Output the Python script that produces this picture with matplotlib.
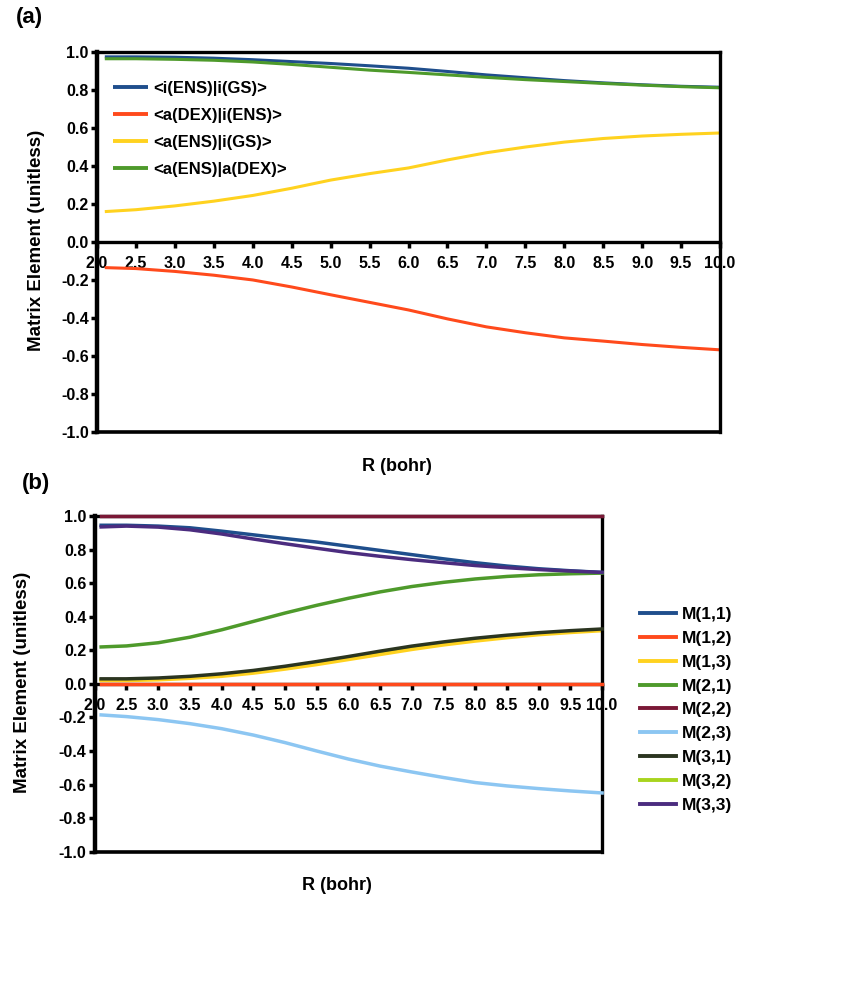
import matplotlib
matplotlib.use("Agg")
import matplotlib.pyplot as plt

plt.rcParams['font.family'] = ['Liberation Sans', 'DejaVu Sans']
plt.rcParams['font.weight'] = 'bold'

# ---------------- data ----------------
R = [2.1, 2.5, 3.0, 3.5, 4.0, 4.5, 5.0, 5.5, 6.0, 6.5, 7.0, 7.5, 8.0, 8.5, 9.0, 9.5, 10.0]

# panel (a)
a_labels = ["<i(ENS)|i(GS)>", "<a(DEX)|i(ENS)>", "<a(ENS)|i(GS)>", "<a(ENS)|a(DEX)>"]
a_iENS_iGS = [0.975, 0.975, 0.973, 0.968, 0.96, 0.95, 0.94, 0.928, 0.915, 0.898, 0.88, 0.865, 0.85, 0.838, 0.828, 0.82, 0.815]
a_aDEX_iENS = [-0.135, -0.14, -0.155, -0.175, -0.2, -0.237, -0.278, -0.318, -0.358, -0.405, -0.447, -0.478, -0.505, -0.522, -0.54, -0.555, -0.568]
a_aENS_iGS = [0.16, 0.17, 0.19, 0.215, 0.245, 0.283, 0.326, 0.36, 0.39, 0.432, 0.47, 0.5, 0.526, 0.545, 0.558, 0.567, 0.574]
a_aENS_aDEX = [0.965, 0.965, 0.962, 0.957, 0.948, 0.935, 0.92, 0.905, 0.893, 0.88, 0.867, 0.855, 0.845, 0.835, 0.826, 0.818, 0.812]
a_colors = ["#1F4E8C", "#FF4A1C", "#FFD21F", "#4E9A2B"]

# panel (b)
b_labels = ["M(1,1)", "M(1,2)", "M(1,3)", "M(2,1)", "M(2,2)", "M(2,3)", "M(3,1)", "M(3,2)", "M(3,3)"]
M11 = [0.945, 0.945, 0.94, 0.93, 0.91, 0.888, 0.866, 0.845, 0.82, 0.795, 0.77, 0.745, 0.722, 0.702, 0.686, 0.674, 0.664]
M12 = [0.0] * 17
M13 = [0.02, 0.02, 0.024, 0.033, 0.045, 0.064, 0.088, 0.115, 0.145, 0.175, 0.205, 0.232, 0.255, 0.275, 0.293, 0.306, 0.317]
M21 = [0.22, 0.226, 0.245, 0.278, 0.322, 0.372, 0.422, 0.468, 0.51, 0.548, 0.58, 0.605, 0.625, 0.64, 0.65, 0.656, 0.66]
M22 = [1.0] * 17
M23 = [-0.185, -0.195, -0.213, -0.237, -0.267, -0.305, -0.35, -0.4, -0.448, -0.49, -0.525, -0.558, -0.588, -0.608, -0.624, -0.638, -0.65]
M31 = [0.03, 0.03, 0.035, 0.045, 0.06, 0.08, 0.105, 0.133, 0.163, 0.195, 0.225, 0.25, 0.272, 0.29, 0.305, 0.317, 0.327]
M32 = [0.025, 0.025, 0.03, 0.039, 0.052, 0.072, 0.097, 0.124, 0.154, 0.185, 0.215, 0.241, 0.264, 0.283, 0.299, 0.311, 0.322]
M33 = [0.935, 0.94, 0.934, 0.918, 0.893, 0.863, 0.835, 0.808, 0.782, 0.76, 0.74, 0.722, 0.705, 0.692, 0.681, 0.672, 0.664]
b_colors = ["#1F4E8C", "#FF4A1C", "#FFD21F", "#4E9A2B", "#7A1836", "#8CC6F2", "#2B3520", "#A8D41E", "#4B2C7F"]

x_ticks = [2.0, 2.5, 3.0, 3.5, 4.0, 4.5, 5.0, 5.5, 6.0, 6.5, 7.0, 7.5, 8.0, 8.5, 9.0, 9.5, 10.0]
y_ticks = [-1.0, -0.8, -0.6, -0.4, -0.2, 0.0, 0.2, 0.4, 0.6, 0.8, 1.0]

fig = plt.figure(figsize=(8.54, 10.02), dpi=100)


def style_axes(ax, fs, xpad):
    ax.spines['bottom'].set_position(('data', 0))
    ax.set_xlim(2.0, 10.0)
    ax.set_ylim(-1.0, 1.0)
    ax.set_xticks(x_ticks)
    ax.set_xticklabels([f"{t:.1f}" for t in x_ticks])
    ax.set_yticks(y_ticks)
    ax.set_yticklabels([f"{t:.1f}" for t in y_ticks])
    ax.spines['bottom'].set_linewidth(2.4)
    ax.spines['left'].set_linewidth(3.2)
    ax.spines['top'].set_linewidth(2.4)
    ax.spines['right'].set_linewidth(2.4)
    for s in ax.spines.values():
        s.set_color('black')
    ax.tick_params(axis='x', direction='out', length=4, width=2.5, pad=xpad, colors='black', labelsize=fs)
    ax.tick_params(axis='y', direction='out', length=4, width=2.5, pad=2, colors='black', labelsize=fs)
    for lab in ax.get_xticklabels() + ax.get_yticklabels():
        lab.set_fontweight('bold')
    ax.axhline(-1.0, color='black', lw=2.6, clip_on=False, zorder=5)


# ---------------- panel (a) ----------------
axA = fig.add_axes([0.1136, 0.569, 0.7295, 0.379])
style_axes(axA, 11.5, 6)
for ys, c, lab in zip([a_iENS_iGS, a_aDEX_iENS, a_aENS_iGS, a_aENS_aDEX], a_colors, a_labels):
    axA.plot(R, ys, color=c, lw=2.2, label=lab, solid_capstyle='butt')
legA = axA.legend(loc='upper left', bbox_to_anchor=(113 / 854, 1 - 81 / 1002),
                  bbox_transform=fig.transFigure, frameon=False,
                  fontsize=12, handlelength=2.1, handletextpad=0.3, labelspacing=0.72,
                  borderpad=0, borderaxespad=0)
for t in legA.get_texts():
    t.set_fontweight('bold')
for h in legA.get_lines():
    h.set_linewidth(2.8)
axA.set_ylabel("Matrix Element (unitless)", fontsize=13.5, fontweight='bold')
axA.yaxis.set_label_coords((45 - 97) / 623, 0.505)
fig.text(397 / 854, 1 - 466 / 1002, "R (bohr)", fontsize=13, fontweight='bold', ha='center', va='center')
fig.text(29 / 854, 1 - 18 / 1002, "(a)", fontsize=16, fontweight='bold', ha='center', va='center')

# ---------------- panel (b) ----------------
axB = fig.add_axes([0.111, 0.150, 0.594, 0.335])
style_axes(axB, 11.5, 6)
series_b = [M11, M12, M13, M21, M22, M23, M31, M32, M33]
zorders = [3, 3, 2.5, 3, 6, 3, 3, 2.4, 3]
for ys, c, lab, z in zip(series_b, b_colors, b_labels, zorders):
    axB.plot(R, ys, color=c, lw=2.5, label=lab, zorder=z, clip_on=False)
legB = axB.legend(loc='upper left', bbox_to_anchor=(640 / 854, 1 - 607 / 1002),
                  bbox_transform=fig.transFigure, frameon=False,
                  fontsize=12.5, handlelength=2.1, handletextpad=0.3, labelspacing=0.5,
                  borderpad=0, borderaxespad=0)
for t in legB.get_texts():
    t.set_fontweight('bold')
for h in legB.get_lines():
    h.set_linewidth(2.8)
axB.set_ylabel("Matrix Element (unitless)", fontsize=13.5, fontweight='bold')
axB.yaxis.set_label_coords((31 - 95) / 507, 0.505)
fig.text(337 / 854, 1 - 886 / 1002, "R (bohr)", fontsize=13, fontweight='bold', ha='center', va='center')
fig.text(36 / 854, 1 - 484 / 1002, "(b)", fontsize=16, fontweight='bold', ha='center', va='center')

fig.savefig("out.png", dpi=100)
